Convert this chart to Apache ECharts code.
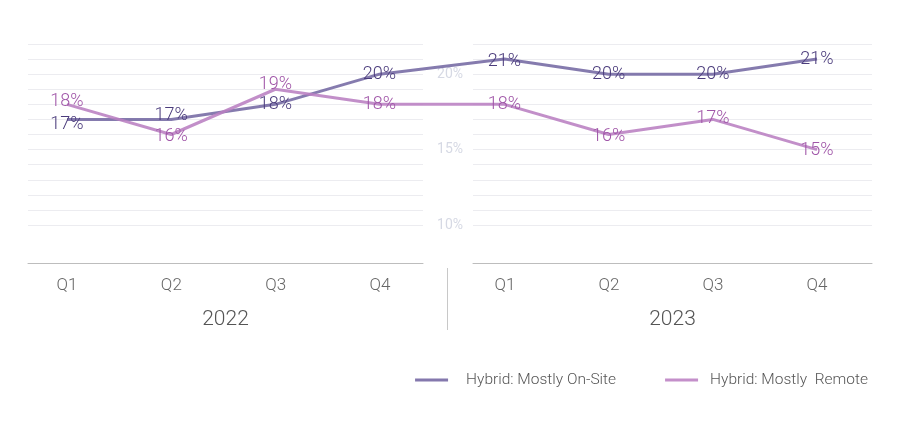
<!DOCTYPE html>
<html>
<head>
<meta charset="utf-8">
<script src="https://cdn.jsdelivr.net/npm/echarts@6/dist/echarts.min.js"></script>
<style>html,body{margin:0;padding:0;background:#fff;}#c{width:900px;height:428px;}</style>
</head>
<body>
<div id="c"></div>
<script>
const years = ['2022', '2023'];
const quarters = ['Q1', 'Q2', 'Q3', 'Q4'];
const onSite = [17, 17, 18, 20, 21, 20, 20, 21];
const remote = [18, 16, 19, 18, 18, 16, 17, 15];
const yTickLabels = [10, 15, 20];
const seriesNames = ['Hybrid: Mostly On-Site', 'Hybrid: Mostly  Remote'];

const FONT = 'Roboto';
const onSiteLine = 'rgba(112,100,160,0.85)';
const onSiteText = '#4b3c7c';
const remoteLine = 'rgba(186,128,194,0.88)';
const remoteText = '#a056a8';

// layout: extra spacing between the two years on the shared line axis
const YEAR_GAP = 0.2;
const xPos = i => i + (i >= quarters.length ? YEAR_GAP : 0);

// small label nudges to avoid overlaps (style only)
const nudgeOn = [[0, 5], [0, -4], [0, 0], [0, 0], [0, 2], [0, 0], [0, 0], [0, 0]];
const nudgeRe = [[0, -3], [0, 2], [0, -5], [0, 0], [0, 0], [0, 2], [0, -1], [0, 1]];

function points(vals, nudges) {
  return vals.map((v, i) => ({ value: [xPos(i), v], label: { offset: nudges[i] } }));
}

const gridTop = 44, gridBottom = 203;
const grids = [
  { left: 28, width: 395, top: gridTop, bottom: gridBottom },
  { left: 473, width: 399, top: gridTop, bottom: gridBottom },
  { left: 67, width: 313, top: gridTop, bottom: gridBottom },
  { left: 505, width: 312, top: gridTop, bottom: gridBottom },
  { left: 67, width: 750, top: gridTop, bottom: gridBottom }
];

const xAxes = [], yAxes = [];
years.forEach((y, i) => {
  xAxes.push({
    type: 'category', gridIndex: i, data: [y], offset: 38, boundaryGap: true,
    axisLine: { show: true, lineStyle: { color: '#bdbdbd', width: 1 } },
    axisTick: { show: false },
    axisLabel: { margin: 46, fontFamily: FONT, fontWeight: 300, fontSize: 21, color: '#555' },
    splitLine: { show: false }
  });
  yAxes.push({
    type: 'value', gridIndex: i, min: 10, max: 22, interval: 1,
    axisLine: { show: false }, axisTick: { show: false },
    axisLabel: {
      show: i === 1, margin: 10, fontFamily: FONT, fontSize: 14, color: '#d6d9e4',
      formatter: v => yTickLabels.includes(v) ? v + '%' : ''
    },
    splitLine: { show: true, lineStyle: { color: '#ececf0', width: 1 } }
  });
});
years.forEach((y, i) => {
  xAxes.push({
    type: 'category', gridIndex: 2 + i, data: quarters, boundaryGap: false, offset: 38,
    axisLine: { show: false }, axisTick: { show: false },
    axisLabel: { margin: 14, fontFamily: FONT, fontWeight: 300, fontSize: 17, color: '#666' },
    splitLine: { show: false }
  });
  yAxes.push({
    type: 'value', gridIndex: 2 + i, min: 10, max: 22, interval: 1, show: false,
    splitLine: { show: false }
  });
});
// shared axis for the continuous lines
xAxes.push({
  type: 'value', gridIndex: 4, min: 0, max: xPos(onSite.length - 1), show: false,
  splitLine: { show: false }
});
yAxes.push({
  type: 'value', gridIndex: 4, min: 10, max: 22, interval: 1, show: false,
  splitLine: { show: false }
});

function lineSeries(name, data, lineColor, textColor) {
  return {
    name, type: 'line', xAxisIndex: 4, yAxisIndex: 4, data,
    symbol: 'circle', symbolSize: 0, showSymbol: true,
    lineStyle: { width: 3, color: lineColor },
    itemStyle: { color: lineColor },
    label: {
      show: true, position: 'inside', formatter: p => p.value[1] + '%',
      fontFamily: FONT, fontWeight: 300, fontSize: 18, color: textColor
    },
    emphasis: { disabled: true },
    z: 3
  };
}

const legendText = { fontFamily: FONT, fontSize: 15.5, fontWeight: 300, color: '#555' };
const option = {
  backgroundColor: '#fff',
  animation: false,
  grid: grids,
  xAxis: xAxes,
  yAxis: yAxes,
  legend: {
    right: 27, top: 367, itemWidth: 33, itemHeight: 3, itemGap: 49, icon: 'rect',
    textStyle: Object.assign({ padding: [0, 0, 0, 13] }, legendText),
    data: [
      { name: seriesNames[0], itemStyle: { color: '#8478ad' } },
      { name: seriesNames[1], itemStyle: { color: '#c48fca' },
        textStyle: Object.assign({ padding: [0, 0, 0, 7] }, legendText) }
    ]
  },
  series: [
    lineSeries(seriesNames[0], points(onSite, nudgeOn), onSiteLine, onSiteText),
    lineSeries(seriesNames[1], points(remote, nudgeRe), remoteLine, remoteText)
  ],
  graphic: [{
    type: 'line', shape: { x1: 447.5, y1: 268, x2: 447.5, y2: 330 },
    style: { stroke: '#c8c8c8', lineWidth: 1 }
  }]
};

const chart = echarts.init(document.getElementById('c'), null, { renderer: 'canvas' });
chart.setOption(option);
</script>
</body>
</html>
